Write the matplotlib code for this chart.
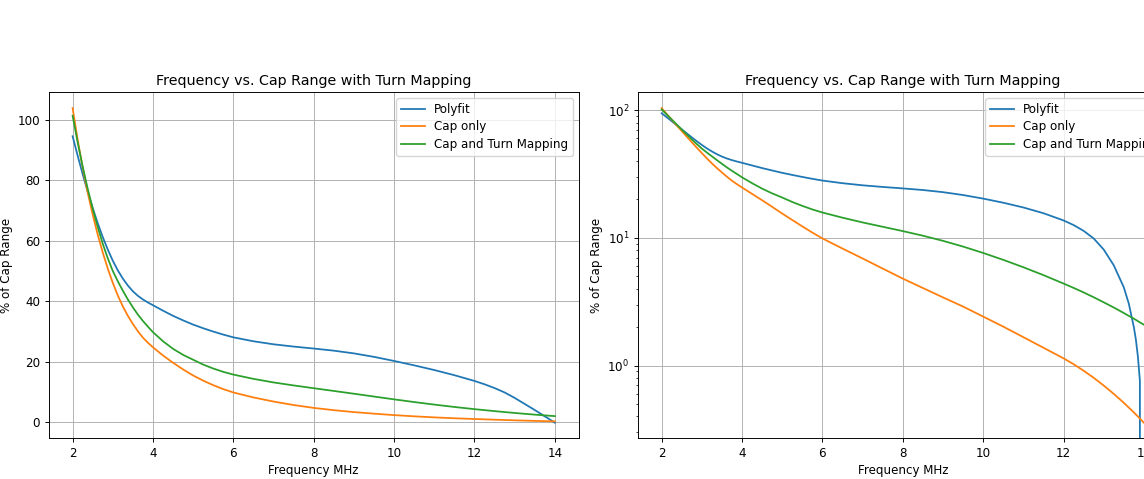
import numpy as np
import matplotlib
matplotlib.use('Agg')
import matplotlib.pyplot as plt

# original looks like a default figure shrunk by ~0.85, so scale the defaults
s = 0.853
plt.rcParams.update({
    'font.size': 10 * s,
    'axes.titlesize': 12 * s,
    'legend.fontsize': 10 * s,
    'legend.labelspacing': 0.37,
    'lines.linewidth': 1.5 * s,
    'axes.linewidth': 0.8 * s,
    'grid.linewidth': 0.8 * s,
    'xtick.major.size': 3.5 * s,
    'ytick.major.size': 3.5 * s,
    'xtick.minor.size': 2 * s,
    'ytick.minor.size': 2 * s,
    'xtick.major.width': 0.8 * s,
    'ytick.major.width': 0.8 * s,
    'xtick.minor.width': 0.6 * s,
    'ytick.minor.width': 0.6 * s,
    'xtick.major.pad': 3.5 * s,
    'ytick.major.pad': 3.5 * s,
    'axes.titlepad': 6 * s,
    'axes.labelpad': 3.5 * s,
})

# frequency points (MHz)
freq = [2, 2.125, 2.25, 2.375, 2.5, 2.625, 2.75, 2.875, 3, 3.125, 3.25, 3.375,
        3.5, 3.625, 3.75, 3.875, 4,
        4.25, 4.5, 4.75, 5, 5.25, 5.5, 5.75, 6,
        6.5, 7, 7.5, 8, 8.5, 9, 9.5, 10, 10.5, 11, 11.5, 12,
        12.25, 12.5, 12.75, 13, 13.25, 13.5, 13.625, 13.75, 13.8, 13.85, 13.9, 14]

# % of cap range for each curve
polyfit = [94.5, 88.1, 82, 76.2, 70.8, 65.8, 61.2, 57.1, 53.4, 50.2, 47.5, 45.2,
           43.3, 41.8, 40.6, 39.6, 38.7,
           36.9, 35.2, 33.7, 32.3, 31.1, 30.0, 29.0, 28.1,
           26.8, 25.8, 25.05, 24.4, 23.7, 22.8, 21.65, 20.3, 18.85, 17.3, 15.6, 13.7,
           12.6, 11.35, 9.9, 8.1, 6.1, 4.1, 3.05, 2.0, 1.6, 1.18, 0.76, -0.1]
cap_only = [103.8, 93.4, 84.1, 75.9, 68.6, 62.0, 56.1, 50.8, 46.1, 41.9, 38.3, 35.2,
            32.5, 30.1, 28.0, 26.3, 24.8,
            22.1, 19.7, 17.5, 15.5, 13.8, 12.3, 11.0, 9.9,
            8.25, 6.9, 5.75, 4.8, 4.05, 3.42, 2.9, 2.42, 2.02, 1.67, 1.38, 1.14,
            1.026, 0.912, 0.803, 0.698, 0.601, 0.511, 0.469, 0.430, 0.414, 0.400, 0.385, 0.357]
cap_turn = [101.3, 92.5, 84.5, 77.2, 70.5, 64.5, 59.0, 54.2, 50.0, 46.6, 43.5, 40.6,
            38.0, 35.6, 33.5, 31.6, 29.8,
            26.8, 24.3, 22.3, 20.7, 19.1, 17.8, 16.7, 15.8,
            14.39, 13.21, 12.22, 11.3, 10.4, 9.48, 8.55, 7.62, 6.73, 5.89, 5.11, 4.39,
            4.06, 3.74, 3.43, 3.13, 2.85, 2.58, 2.45, 2.33, 2.28, 2.23, 2.18, 2.09]

fig = plt.figure(figsize=(11.44, 4.79), dpi=100)
ax1 = fig.add_axes([0.0424, 0.0846, 0.4637, 0.7226])
ax2 = fig.add_axes([0.5573, 0.0846, 0.4637, 0.7226])  # runs past the right edge like the original

for ax in (ax1, ax2):
    ax.plot(freq, polyfit, label='Polyfit')
    ax.plot(freq, cap_only, label='Cap only')
    ax.plot(freq, cap_turn, label='Cap and Turn Mapping')
    ax.set_title('Frequency vs. Cap Range with Turn Mapping')
    ax.set_xlabel('Frequency MHz')
    ax.set_ylabel('% of Cap Range')
    ax.grid(True)
    ax.legend(loc='upper right')

ax2.set_yscale('log')

fig.savefig('out.png', dpi=100)
